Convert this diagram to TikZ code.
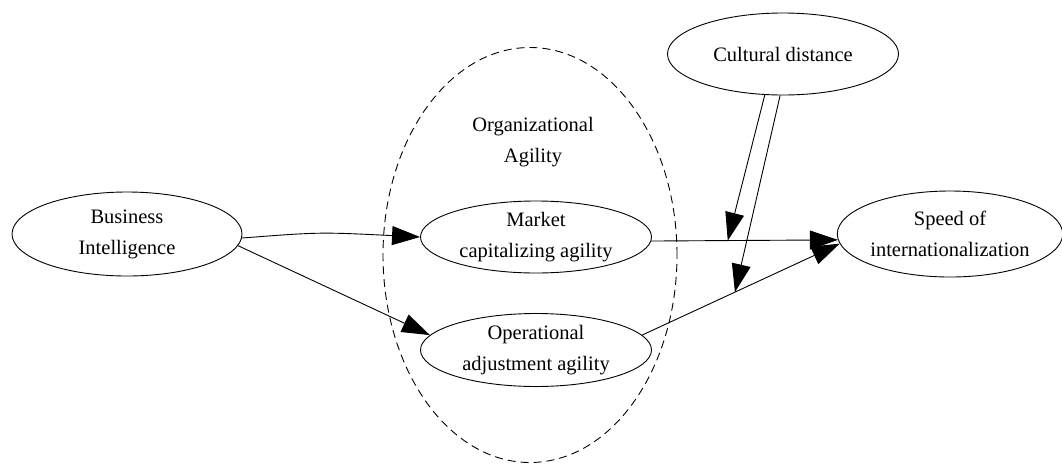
\documentclass[tikz,border=0pt]{standalone}
\usepackage{fontspec}
\setmainfont{Liberation Serif}
\usetikzlibrary{shapes.geometric,arrows.meta}
\begin{document}
\begin{tikzpicture}[x=1pt,y=-1pt,
  every node/.style={font=\fontsize{20.5}{31}\selectfont},
  oval/.style={draw,ellipse,inner sep=0pt,line width=0.9pt,align=center},
  arr/.style={line width=0.9pt,-{Triangle[length=28pt,width=19pt]}},
  grp/.style={draw,ellipse,inner sep=0pt,line width=0.9pt,dash pattern=on 8pt off 5pt}]
\useasboundingbox (0,0) rectangle (1062,464);
\node[grp,minimum width=294pt,minimum height=415pt] (oa) at (530,255) {};
\node[align=center] (oat) at (533,142) {Organizational\\Agility};
\node[oval,minimum width=230pt,minimum height=84pt] (bi) at (127,234) {Business\\Intelligence};
\node[oval,minimum width=231pt,minimum height=72pt] (mc) at (536,237) {Market\\capitalizing agility};
\node[oval,minimum width=231pt,minimum height=73pt] (op) at (536,350) {Operational\\adjustment agility};
\node[oval,minimum width=220pt,minimum height=86pt] (sp) at (950,234) {Speed of\\internationalization};
\node[oval,minimum width=231pt,minimum height=82pt] (cd) at (783,54) {Cultural distance};
\draw[arr] (bi.-2) .. controls (320,232) .. (mc.west);
\draw[arr] (bi.-6) -- (op.172);
\draw[arr] (mc.-2) -- coordinate[pos=0.41] (m1) (sp.183);
\draw[arr] (op.8) -- coordinate[pos=0.47] (m2) (sp.185);
\draw[arr] (cd.246) -- (m1);
\draw[arr] (cd.266) -- (m2);
\end{tikzpicture}
\end{document}
